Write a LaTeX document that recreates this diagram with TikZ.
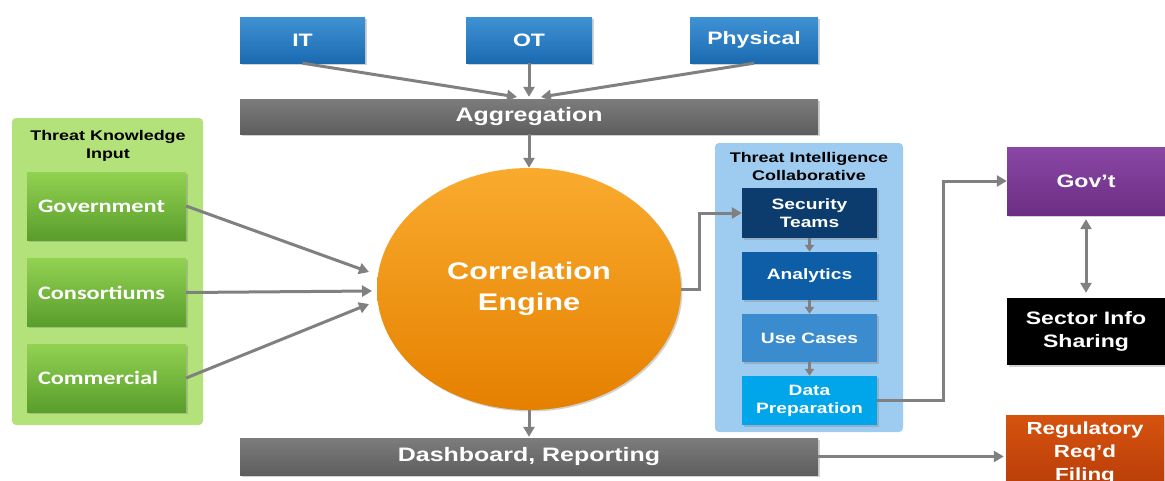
\documentclass[tikz,border=0pt]{standalone}
\usepackage{fontspec}
\setmainfont{Liberation Sans}[FakeStretch=1.28]
\newfontfamily\cfont{Carlito}[FakeStretch=1.28]
\usetikzlibrary{shadows,arrows.meta,shapes.geometric,calc}
\definecolor{arrgray}{HTML}{808080}
\definecolor{bluetop}{HTML}{3F92D4}
\definecolor{bluebot}{HTML}{1B6AB1}
\definecolor{graytop}{HTML}{7C7C7C}
\definecolor{graybot}{HTML}{5E5E5E}
\definecolor{orgtop}{HTML}{F9AB2E}
\definecolor{orgbot}{HTML}{E58000}
\definecolor{gpanel}{HTML}{B4E27A}
\definecolor{gtop}{HTML}{92D252}
\definecolor{gbot}{HTML}{599D2B}
\definecolor{bpanel}{HTML}{9ECBF0}
\definecolor{secblue}{HTML}{0B3C6D}
\definecolor{anablue}{HTML}{0D5EA6}
\definecolor{useblue}{HTML}{3A8CCF}
\definecolor{dpblue}{HTML}{00A5EA}
\definecolor{purtop}{HTML}{8A47A4}
\definecolor{purbot}{HTML}{6C2E85}
\definecolor{regtop}{HTML}{D6530F}
\definecolor{regbot}{HTML}{B83C08}
\newcommand{\fsz}[1]{\fontsize{#1}{#1}\selectfont}
\begin{document}
\begin{tikzpicture}[x=1pt,y=-1pt,
  shd/.style={drop shadow={opacity=0.35,shadow xshift=1.5pt,shadow yshift=-1.5pt}},
  box/.style={rectangle,inner sep=0pt,align=center,text=white,shd},
  bluebox/.style={box,top color=bluetop,bottom color=bluebot,minimum height=46pt,font=\bfseries\fsz{18}},
  bar/.style={box,top color=graytop,bottom color=graybot,minimum width=578pt,font=\bfseries\fsz{19.5}},
  greenbox/.style={box,top color=gtop,bottom color=gbot,minimum height=68pt,text width=137pt,inner xsep=11pt,align=left,font=\cfont\bfseries\fsz{19}},
  tibox/.style={box,minimum width=135pt,font=\bfseries\fontsize{15}{18}\selectfont},
  rbox/.style={box,minimum width=158pt,minimum height=68pt,font=\bfseries\fontsize{18}{23}\selectfont},
  arr/.style={draw=arrgray,line width=3pt,-{Triangle[length=10pt,width=11pt]}},
  sarr/.style={draw=arrgray,line width=2.5pt,-{Triangle[length=7pt,width=9pt]}},
]
\useasboundingbox (0,0) rectangle (1165,480);
\fill[white] (0,0) rectangle (1165,480);

% top sources
\node[bluebox,minimum width=125pt] (it) at (302.5,40) {IT};
\node[bluebox,minimum width=126pt] (ot) at (529,40) {OT};
\node[bluebox,minimum width=128pt] (phy) at (754,40) {Physical};

\node[bar,minimum height=35pt] (agg) at (529,116.5) {Aggregation};
\node[bar,minimum height=37pt] (dash) at (529,456.5) {Dashboard, Reporting};

% engine
\node[ellipse,inner sep=0pt,minimum width=304pt,minimum height=242pt,top color=orgtop,bottom color=orgbot,
      text=white,align=center,font=\bfseries\fontsize{24}{31}\selectfont,shd] (eng) at (529,289) {Correlation\\Engine};

% threat knowledge panel
\node[rectangle,rounded corners=4pt,fill=gpanel,minimum width=191pt,minimum height=307pt,inner sep=0pt] (kp) at (107.5,271.5) {};
\node[align=center,font=\bfseries\fontsize{14}{18}\selectfont,text=black,inner sep=0pt] (kpt) at (108,146) {Threat Knowledge\\Input};
\node[greenbox] (gov) at (106.5,206) {Government};
\node[greenbox] (con) at (106.5,292.5) {Consortiums};
\node[greenbox] (com) at (106.5,378) {Commercial};

% threat intelligence panel
\node[rectangle,rounded corners=4pt,fill=bpanel,minimum width=188pt,minimum height=289pt,inner sep=0pt] (tp) at (809,287.5) {};
\node[align=center,font=\bfseries\fontsize{14}{18}\selectfont,text=black,inner sep=0pt] (tpt) at (809,166) {Threat Intelligence\\Collaborative};
\node[tibox,fill=secblue,minimum height=50pt] (sec) at (809.5,213) {Security\\Teams};
\node[tibox,fill=anablue,minimum height=48pt] (ana) at (809.5,276) {Analytics};
\node[tibox,fill=useblue,minimum height=48pt] (use) at (809.5,338) {Use Cases};
\node[tibox,fill=dpblue,minimum height=49pt] (dp) at (809.5,400.5) {Data\\Preparation};

% right column
\node[rbox,top color=purtop,bottom color=purbot] (govt) at (1086,181) {Gov't};
\node[rbox,fill=black,minimum height=67pt] (sis) at (1086,331.5) {Sector Info\\Sharing};
\node[rbox,top color=regtop,bottom color=regbot,minimum height=76pt,font=\bfseries\fontsize{17.5}{23}\selectfont] (reg) at (1085,453) {Regulatory\\Req'd\\Filing};

% connectors
\coordinate (a1) at (517,97);
\coordinate (a3) at (541,97);
\draw[arr] (it.south) -- (a1);
\draw[arr,shorten >=2pt] (ot.south) -- (agg.north);
\draw[arr] (phy.south) -- (a3);
\draw[arr] (agg.south) -- (eng.north);
\draw[arr,shorten >=1pt] (eng.south) -- (dash.north);

\coordinate (e1) at (369,272);
\coordinate (e2) at (372,291);
\coordinate (e3) at (369,304);
\draw[arr] (gov.east) -- (e1);
\draw[arr] (con.east) -- (e2);
\draw[arr] (com.east) -- (e3);

\draw[arr] (eng.east) -- ++(18,0) |- (sec.west);
\draw[sarr] (sec.south) -- (ana.north);
\draw[sarr] (ana.south) -- (use.north);
\draw[sarr] (use.south) -- (dp.north);
\draw[arr] (dp.east) -- ++(66,0) |- (govt.west);
\draw[draw=arrgray,line width=3pt,{Triangle[length=10pt,width=11pt]}-{Triangle[length=10pt,width=11pt]},shorten <=4pt,shorten >=5pt] (govt.south) -- (sis.north);
\draw[arr,shorten >=2pt] (dash.east) -- (dash.east -| reg.west);
\end{tikzpicture}
\end{document}
